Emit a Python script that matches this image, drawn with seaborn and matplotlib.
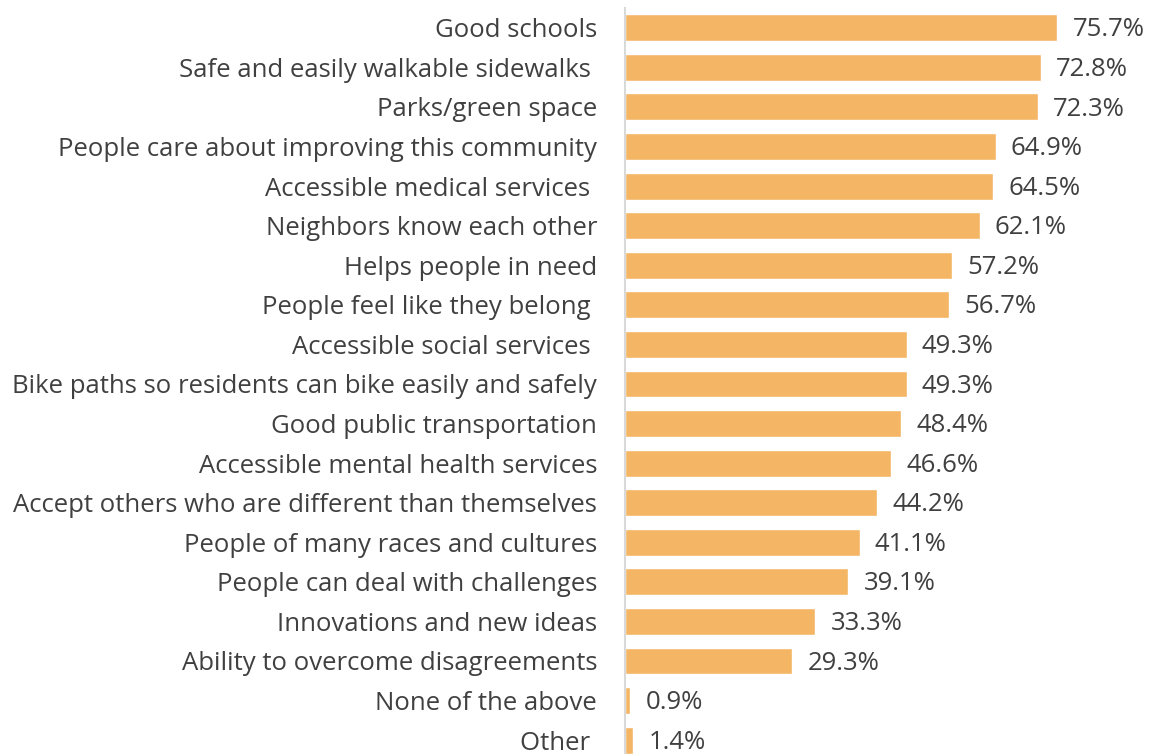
import matplotlib
matplotlib.use("Agg")
import matplotlib.pyplot as plt
import seaborn as sns
import pandas as pd

categories = [
    "Good schools",
    "Safe and easily walkable sidewalks ",
    "Parks/green space",
    "People care about improving this community",
    "Accessible medical services ",
    "Neighbors know each other",
    "Helps people in need",
    "People feel like they belong ",
    "Accessible social services ",
    "Bike paths so residents can bike easily and safely",
    "Good public transportation",
    "Accessible mental health services",
    "Accept others who are different than themselves",
    "People of many races and cultures",
    "People can deal with challenges",
    "Innovations and new ideas",
    "Ability to overcome disagreements",
    "None of the above",
    "Other ",
]
values = [75.7, 72.8, 72.3, 64.9, 64.5, 62.1, 57.2, 56.7, 49.3, 49.3,
          48.4, 46.6, 44.2, 41.1, 39.1, 33.3, 29.3, 0.9, 1.4]
value_labels = [f"{v:.1f}%" for v in values]

df = pd.DataFrame({"category": categories, "value": values})

sns.set_theme(style="white")
plt.rcParams["font.family"] = ["Open Sans", "DejaVu Sans"]

fig = plt.figure(figsize=(11.5, 7.54), dpi=100)
ax = fig.add_axes([625 / 1150, 0.0, 1 - 625 / 1150, 1 - 8 / 754])

sns.barplot(data=df, y="category", x="value", order=categories, orient="h",
            color="#F4B664", saturation=1, width=0.68, ax=ax)

ax.set_xlim(0, 525 / 5.71)
ax.set_ylim(18.35, -0.5)
ax.set_xlabel("")
ax.set_ylabel("")
ax.set_xticks([])
for s in ["top", "right", "bottom"]:
    ax.spines[s].set_visible(False)
ax.spines["left"].set_color("#D9D9D9")
ax.spines["left"].set_linewidth(1.5)
ax.tick_params(axis="y", length=0, pad=20, labelsize=18.5, labelcolor="#404040")

for i, (v, lab) in enumerate(zip(values, value_labels)):
    ax.annotate(lab, xy=(v, i), xytext=(11, -1.5), textcoords="offset points",
                va="center", ha="left", fontsize=18.5, color="#404040",
                annotation_clip=False)

fig.savefig("out.png", dpi=100)
